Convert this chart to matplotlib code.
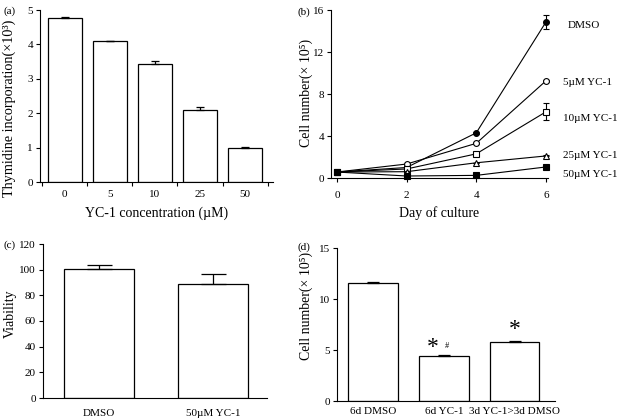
import matplotlib
matplotlib.use("Agg")
import matplotlib.pyplot as plt
import numpy as np

plt.rcParams['font.family'] = ['Liberation Serif', 'DejaVu Serif']
plt.rcParams['font.size'] = 8

# ---- data ----
# (a)
a_categories = ['0', '5', '10', '25', '50']
a_values = [4.78, 4.10, 3.42, 2.10, 0.98]
a_errors = [0.02, 0.0, 0.10, 0.08, 0.05]

# (b)
b_days = [0, 2, 4, 6]
b_series_names = ['DMSO', '5µM YC-1', '10µM YC-1', '25µM YC-1', '50µM YC-1']
b_dmso = [0.57, 1.0, 4.3, 14.85]
b_5um = [0.57, 1.33, 3.3, 9.25]
b_10um = [0.57, 0.86, 2.3, 6.3]
b_25um = [0.57, 0.6, 1.45, 2.1]
b_50um = [0.57, 0.19, 0.25, 1.05]
b_dmso_err = [0.0, 0.0, 0.1, 0.7]
b_5um_err = [0.0, 0.0, 0.1, 0.1]
b_10um_err = [0.0, 0.0, 0.1, 0.8]
b_25um_err = [0.0, 0.0, 0.0, 0.05]
b_50um_err = [0.0, 0.0, 0.0, 0.05]
b_label_y = [14.5, 9.1, 5.7, 2.1, 0.3]

# (c)
c_categories = ['DMSO', '50µM YC-1']
c_values = [100.5, 88.5]
c_errors = [3.5, 8.0]

# (d)
d_categories = ['6d DMSO', '6d YC-1', '3d YC-1>3d DMSO']
d_values = [11.6, 4.4, 5.8]
d_errors = [0.06, 0.1, 0.12]

W, H = 622, 419
fig = plt.figure(figsize=(W / 100, H / 100), dpi=100)


def rect(l, r, t, b):
    return [l / W, 1 - b / H, (r - l) / W, (b - t) / H]


def style(ax):
    for s in ['top', 'right']:
        ax.spines[s].set_visible(False)
    for s in ['left', 'bottom']:
        ax.spines[s].set_linewidth(0.8)
    ax.tick_params(direction='out', length=3, width=0.8, labelsize=8, pad=2)


# ---- (a) ----
ax = fig.add_axes(rect(40, 273, 10, 182))
style(ax)
xa = np.arange(len(a_values))
ax.bar(xa, a_values, width=0.76, color='white', edgecolor='black', linewidth=0.9)
ax.errorbar(xa, a_values, yerr=[np.zeros(len(a_errors)), a_errors], fmt='none',
            ecolor='black', elinewidth=0.9, capsize=3, capthick=0.9)
ax.set_xlim(-0.55, 4.62)
ax.set_ylim(0, 5)
ax.set_yticks([0, 1, 2, 3, 4, 5])
ax.set_xticks(xa)
ax.set_xticklabels(a_categories)
ax.tick_params(axis='x', length=0, pad=6)
ax.set_xticks(np.arange(-0.5, len(a_values)), minor=True)
ax.tick_params(axis='x', which='minor', length=3, width=0.8, direction='out')
ax.set_xlabel('YC-1 concentration (µM)', fontsize=10, labelpad=5)
ax.set_ylabel('Thymidine incorporation(×10³)', fontsize=10.2)
ax.yaxis.set_label_coords(-0.103, 0.43)
fig.text(3 / W, 1 - 11 / H, '(a)', fontsize=8, va='center', ha='left')

# ---- (b) ----
ax = fig.add_axes(rect(331, 548, 10, 178))
style(ax)
b_series = [b_dmso, b_5um, b_10um, b_25um, b_50um]
b_errs = [b_dmso_err, b_5um_err, b_10um_err, b_25um_err, b_50um_err]
markers = [('o', 'black'), ('o', 'white'), ('s', 'white'), ('^', 'white'), ('s', 'black')]
for vals, errs, (m, fc) in zip(b_series, b_errs, markers):
    ax.errorbar(b_days, vals, yerr=errs, color='black', linewidth=0.8,
                marker=m, markersize=4.2, markerfacecolor=fc, markeredgecolor='black',
                markeredgewidth=0.8, elinewidth=0.8, capsize=2, capthick=0.8,
                clip_on=False, zorder=3)
for name, ly in zip(b_series_names, b_label_y):
    ax.text(6.62 if name == 'DMSO' else 6.5, ly, name, fontsize=8, va='center', ha='left',
            clip_on=False)
ax.set_xlim(-0.17, 6.06)
ax.set_ylim(0, 16)
ax.set_xticks(b_days)
ax.set_yticks([0, 4, 8, 12, 16])
ax.tick_params(axis='x', pad=6)
ax.set_xlabel('Day of culture', fontsize=10, labelpad=5)
ax.set_ylabel('Cell number(× 10⁵)', fontsize=10)
ax.yaxis.set_label_coords(-0.083, 0.506)
fig.text(297 / W, 1 - 12 / H, '(b)', fontsize=8, va='center', ha='left')

# ---- (c) ----
ax = fig.add_axes(rect(43, 267, 244, 398))
style(ax)
xc = np.arange(len(c_values))
ax.bar(xc, c_values, width=0.61, color='white', edgecolor='black', linewidth=0.9)
ax.errorbar(xc, c_values, yerr=[np.zeros(len(c_errors)), c_errors], fmt='none',
            ecolor='black', elinewidth=0.9, capsize=9, capthick=0.9)
ax.set_xlim(-0.49, 1.47)
ax.set_ylim(0, 120)
ax.set_yticks([0, 20, 40, 60, 80, 100, 120])
ax.set_xticks(xc)
ax.set_xticklabels(c_categories)
ax.tick_params(axis='x', length=0, pad=8)
ax.set_ylabel('Viability', fontsize=10)
ax.yaxis.set_label_coords(-0.116, 0.55)
fig.text(3 / W, 1 - 245 / H, '(c)', fontsize=8, va='center', ha='left')

# ---- (d) ----
ax = fig.add_axes(rect(337, 555, 248, 401))
style(ax)
xd = np.arange(len(d_values))
ax.bar(xd, d_values, width=0.7, color='white', edgecolor='black', linewidth=0.9)
ax.errorbar(xd, d_values, yerr=[np.zeros(len(d_errors)), d_errors], fmt='none',
            ecolor='black', elinewidth=0.9, capsize=4, capthick=0.9)
ax.set_xlim(-0.51, 2.57)
ax.set_ylim(0, 15)
ax.set_yticks([0, 5, 10, 15])
ax.set_xticks(xd)
ax.set_xticklabels(d_categories)
ax.tick_params(axis='x', length=0, pad=4)
ax.set_ylabel('Cell number(× 10⁵)', fontsize=10)
ax.yaxis.set_label_coords(-0.110, 0.62)
ax.text(xd[1] - 0.15, d_values[1] + 0.8, '*', fontsize=17, ha='center', va='center')
ax.text(xd[1] + 0.05, d_values[1] + 1.0, '#', fontsize=6, ha='center', va='center')
ax.text(xd[2], d_values[2] + 1.25, '*', fontsize=17, ha='center', va='center')
fig.text(297 / W, 1 - 247 / H, '(d)', fontsize=8, va='center', ha='left')

fig.savefig('out.png', dpi=100)
